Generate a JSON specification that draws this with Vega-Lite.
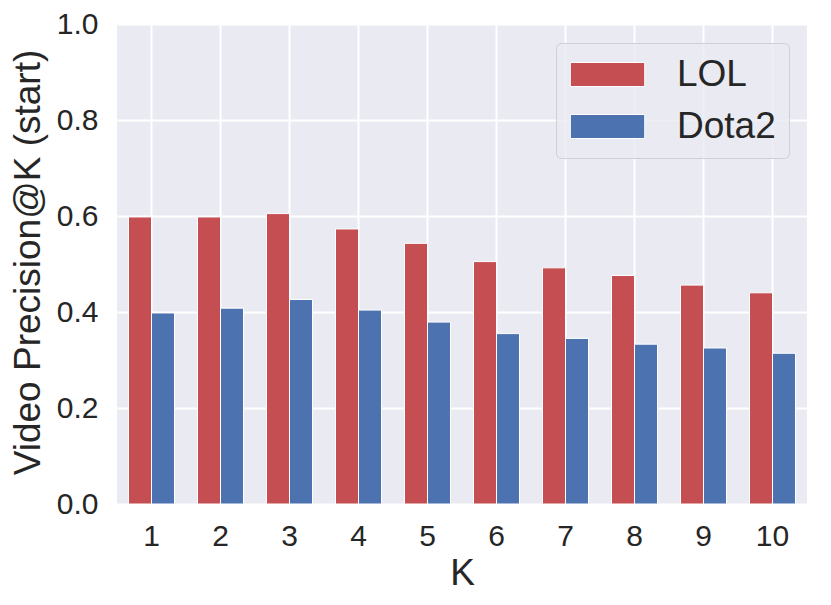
{
  "$schema": "https://vega.github.io/schema/vega-lite/v6.json",
  "autosize": {"type": "none"},
  "padding": {"left": 117, "top": 24, "right": 24, "bottom": 101},
  "width": 690,
  "height": 480,
  "background": "white",
  "config": {
    "font": "Liberation Sans",
    "view": {"fill": "#EAEAF2", "stroke": null}
  },
  "data": {
    "values": [
      {"K": "1", "game": "LOL", "precision": 0.598},
      {"K": "2", "game": "LOL", "precision": 0.598},
      {"K": "3", "game": "LOL", "precision": 0.605},
      {"K": "4", "game": "LOL", "precision": 0.573},
      {"K": "5", "game": "LOL", "precision": 0.543},
      {"K": "6", "game": "LOL", "precision": 0.505},
      {"K": "7", "game": "LOL", "precision": 0.492},
      {"K": "8", "game": "LOL", "precision": 0.476},
      {"K": "9", "game": "LOL", "precision": 0.456},
      {"K": "10", "game": "LOL", "precision": 0.44},
      {"K": "1", "game": "Dota2", "precision": 0.398},
      {"K": "2", "game": "Dota2", "precision": 0.408},
      {"K": "3", "game": "Dota2", "precision": 0.426},
      {"K": "4", "game": "Dota2", "precision": 0.404},
      {"K": "5", "game": "Dota2", "precision": 0.379},
      {"K": "6", "game": "Dota2", "precision": 0.355},
      {"K": "7", "game": "Dota2", "precision": 0.345},
      {"K": "8", "game": "Dota2", "precision": 0.333},
      {"K": "9", "game": "Dota2", "precision": 0.325},
      {"K": "10", "game": "Dota2", "precision": 0.314}
    ]
  },
  "mark": {"type": "bar", "stroke": "white", "strokeWidth": 1},
  "encoding": {
    "x": {
      "field": "K",
      "type": "ordinal",
      "sort": null,
      "scale": {"paddingInner": 0, "paddingOuter": 0},
      "axis": {
        "title": "K",
        "labelAngle": 0,
        "labelFontSize": 30,
        "labelColor": "#262626",
        "labelPadding": 17,
        "ticks": false,
        "tickSize": 0,
        "domain": false,
        "grid": true,
        "gridColor": "white",
        "gridWidth": 2,
        "titleFontSize": 37,
        "titleFontWeight": "normal",
        "titleColor": "#262626",
        "titleBaseline": "alphabetic",
        "titleY": 80
      }
    },
    "xOffset": {
      "field": "game",
      "type": "nominal",
      "sort": ["LOL", "Dota2"],
      "scale": {"paddingInner": 0, "paddingOuter": 0.5}
    },
    "y": {
      "field": "precision",
      "type": "quantitative",
      "scale": {"domain": [0, 1], "nice": false},
      "axis": {
        "title": "Video Precision@K (start)",
        "values": [0, 0.2, 0.4, 0.6, 0.8, 1.0],
        "format": ".1f",
        "labelFontSize": 30,
        "labelColor": "#262626",
        "labelPadding": 19,
        "ticks": false,
        "tickSize": 0,
        "domain": false,
        "gridColor": "white",
        "gridWidth": 2,
        "titleFontSize": 37,
        "titleFontWeight": "normal",
        "titleColor": "#262626",
        "titleBaseline": "alphabetic",
        "titleX": -78,
        "titleY": 238
      }
    },
    "color": {
      "field": "game",
      "type": "nominal",
      "sort": ["LOL", "Dota2"],
      "scale": {"domain": ["LOL", "Dota2"], "range": ["#C44E52", "#4C72B0"]},
      "legend": {
        "title": null,
        "orient": "none",
        "legendX": 439,
        "legendY": 19,
        "padding": 13,
        "fillColor": "rgba(234,234,242,0.8)",
        "strokeColor": "#cfcfd6",
        "cornerRadius": 5,
        "symbolType": "M-1.43,-1H4.77V1H-1.43Z",
        "symbolSize": 576,
        "symbolOpacity": 1,
        "symbolStrokeColor": "white",
        "symbolStrokeWidth": 1,
        "labelFontSize": 37,
        "labelColor": "#262626",
        "labelOffset": 71,
        "rowPadding": 14
      }
    }
  }
}
